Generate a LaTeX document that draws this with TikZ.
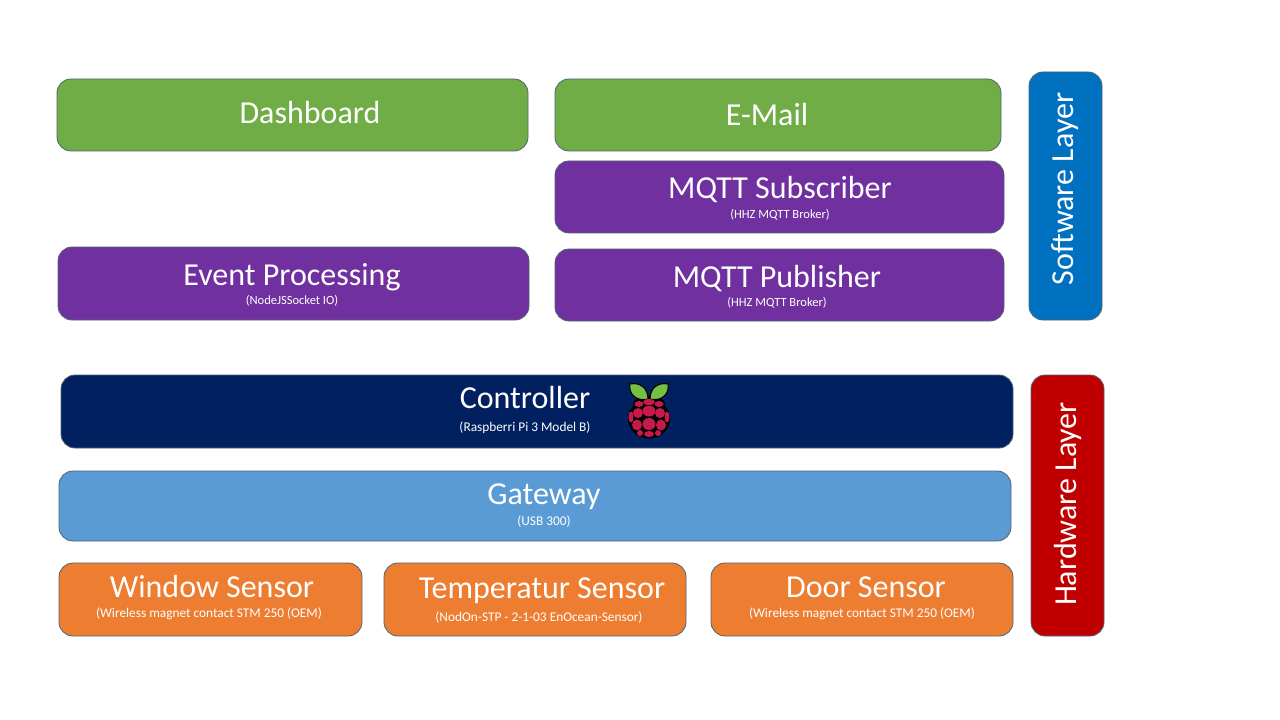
\documentclass[tikz,border=0pt]{standalone}
\usepackage{fontspec}
\setmainfont{Carlito}
\definecolor{cgreen}{HTML}{70AD47}
\definecolor{cpurple}{HTML}{7030A0}
\definecolor{cnavy}{HTML}{002060}
\definecolor{csky}{HTML}{5B9BD5}
\definecolor{corange}{HTML}{ED7D31}
\definecolor{cred}{HTML}{C00000}
\definecolor{cblue}{HTML}{0070C0}
\definecolor{cedge}{HTML}{4F6472}
\definecolor{rasp}{HTML}{C51A4A}
\definecolor{leaf}{HTML}{75C044}
\tikzset{
  x=0.75pt,y=-0.75pt,
  lbox/.style={draw=cedge,line width=0.6pt,rounded corners=10.5pt,inner sep=0pt,outer sep=0pt,anchor=north west},
  ttl/.style={text=white,font=\fontsize{24}{28}\selectfont,inner sep=0pt},
  sub/.style={text=white,font=\fontsize{10}{12}\selectfont,inner sep=0pt},
  subs/.style={text=white,font=\fontsize{9.4}{11}\selectfont,inner sep=0pt},
  vtl/.style={text=white,font=\fontsize{24}{28}\selectfont,inner sep=0pt,rotate=90},
}
\newcommand{\lb}[6]{\node[lbox,fill=#6,minimum width={(#4-#2)*0.75pt},minimum height={(#5-#3)*0.75pt}] (#1) at (#2,#3) {};}
\begin{document}
\begin{tikzpicture}
\useasboundingbox (0,0) rectangle (1280,720);
\fill[white] (0,0) rectangle (1280,720);
\lb{dash}{57}{79}{528}{151}{cgreen}
\lb{mail}{555}{79}{1001}{151}{cgreen}
\lb{msub}{555}{161}{1004}{233}{cpurple}
\lb{event}{58}{247}{529}{320}{cpurple}
\lb{mpub}{555}{249}{1004}{321}{cpurple}
\lb{soft}{1029}{72}{1102}{320}{cblue}
\lb{ctrl}{61}{375}{1013}{448}{cnavy}
\lb{gate}{59}{471}{1011}{541}{csky}
\lb{win}{59}{563}{362}{636}{corange}
\lb{temp}{384}{563}{686}{636}{corange}
\lb{door}{711}{563}{1013}{636}{corange}
\lb{hard}{1031}{375}{1104}{636}{cred}
\node[ttl] (t1) at (310,113) {Dashboard};
\node[ttl] (t2) at (767,115) {E-Mail};
\node[ttl] (t3) at (780,190) {MQTT Subscriber};
\node[subs] (s3) at (780,215) {(HHZ MQTT Broker)};
\node[ttl] (t4) at (292,277) {Event Processing};
\node[subs] (s4) at (292,301) {(NodeJSSocket IO)};
\node[ttl] (t5) at (777,279) {MQTT Publisher};
\node[subs] (s5) at (777,303) {(HHZ MQTT Broker)};
\node[ttl] (t6) at (525,398) {Controller};
\node[sub] (s6) at (525,428) {(Raspberri Pi 3 Model B)};
\node[ttl] (t7) at (544,497) {Gateway};
\node[sub] (s7) at (544,522) {(USB 300)};
\node[ttl] (t8) at (212,587) {Window Sensor};
\node[sub] (s8) at (209,614) {(Wireless magnet contact STM 250 (OEM)};
\node[ttl] (t9) at (542,591) {Temperatur Sensor};
\node[sub] (s9) at (539,618) {(NodOn-STP - 2-1-03 EnOcean-Sensor)};
\node[ttl] (t10) at (866,587) {Door Sensor};
\node[sub] (s10) at (862,614) {(Wireless magnet contact STM 250 (OEM)};
\node[vtl] (v1) at (1065,189) {Software Layer};
\node[vtl] (v2) at (1068,504) {Hardware Layer};
% Raspberry logo
\fill[black] (649,419) ellipse [x radius=21,y radius=19.5];
\fill[black] (649,404) ellipse [x radius=16,y radius=8];
\draw[fill=leaf,draw=black,line width=0.8pt] (648,399) .. controls (648,388) and (640,382) .. (630,384) .. controls (628,394) and (637,402) .. (648,399) -- cycle;
\draw[fill=leaf,draw=black,line width=0.8pt] (650,399) .. controls (650,388) and (658,382) .. (668,384) .. controls (670,394) and (661,402) .. (650,399) -- cycle;
\foreach \cx/\cy/\rx/\ry in {649/402/6/3, 639/404/4.5/3, 659/404/4.5/3, 649/411/6.5/5.5, 638/413/5/5, 660/413/5/5, 631/417/2.5/5.5, 667/417/2.5/5.5, 649/424/6.5/6, 637/425/5/5.5, 661/425/5/5.5, 649/434/5/3, 640/433/3/3, 658/433/3/3}
  \fill[rasp] (\cx,\cy) ellipse [x radius=\rx,y radius=\ry];
\end{tikzpicture}
\end{document}
